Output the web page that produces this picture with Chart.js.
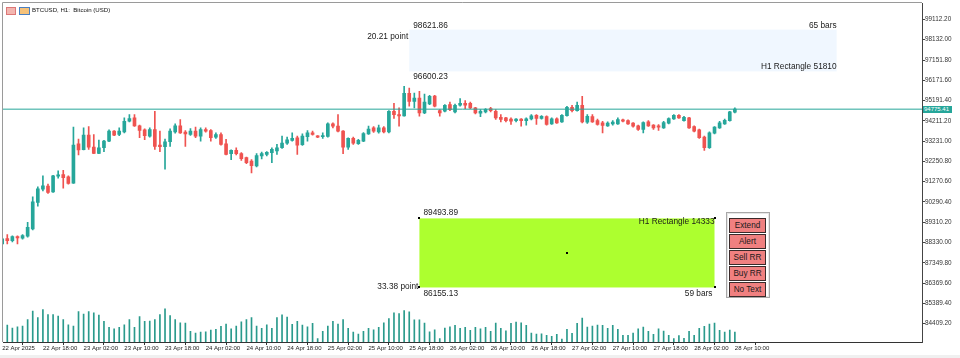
<!DOCTYPE html>
<html><head><meta charset="utf-8">
<script src="https://cdn.jsdelivr.net/npm/chart.js@4.4.1/dist/chart.umd.min.js"></script>
<style>
html,body{margin:0;padding:0;background:#fff;}
#wrap{position:relative;width:960px;height:358px;overflow:hidden;font-family:"Liberation Sans",Arial,sans-serif;background:#fff;}
#c{position:absolute;left:0;top:0;}
.lbl{position:absolute;font-size:8.3px;color:#1a1a1a;white-space:nowrap;line-height:10px;}
.l{transform:translate(0,-50%);} .r{transform:translate(-100%,-50%);}
#title{position:absolute;left:32px;top:6px;font-size:6.1px;line-height:7px;color:#111;white-space:nowrap;}
.ico{position:absolute;top:7px;height:6px;}
#pricebox{position:absolute;left:923px;width:29px;height:7px;background:#26a69a;color:#fff;font-size:6px;line-height:7px;padding-left:1px;box-sizing:border-box;}
#panel{position:absolute;left:726px;top:212px;width:44px;height:86px;background:#fff;border:1px solid #a8a8a8;box-sizing:border-box;box-shadow:inset 0 0 0 1px #e6e6e6;}
.btn{position:absolute;left:2px;width:37px;height:15px;background:#f08080;border:1px solid #3a2a2a;box-sizing:border-box;font-size:8.2px;line-height:13px;text-align:center;color:#1a1a1a;}
#foot{position:absolute;left:0;top:355px;width:960px;height:3px;background:#f0f0f0;}
</style></head>
<body><div id="wrap">
<canvas id="c" width="960" height="358"></canvas>
<div class="ico" style="left:6px;width:8px;background:#f3b6b0;border:1px solid #d77"></div>
<div class="ico" style="left:19px;width:9px;background:#f6c27a;border:1px solid #4a7fc0"></div>
<div id="title">BTCUSD, H1:&nbsp; Bitcoin (USD)</div>
<div id="pricebox">94775.41</div>
<div id="panel"></div>
<div id="foot"></div>
</div>
<script>
// ---- data ----
const symbolTitle = 'BTCUSD, H1:  Bitcoin (USD)';
const xTickIndex = [0,8,16,24,32,40,48,56,64,72,80,88,96,104,112,120,128,136,144];
const xTickLabels = ['22 Apr 2025','22 Apr 18:00','23 Apr 02:00','23 Apr 10:00','23 Apr 18:00','24 Apr 02:00','24 Apr 10:00','24 Apr 18:00','25 Apr 02:00','25 Apr 10:00','25 Apr 18:00','26 Apr 02:00','26 Apr 10:00','26 Apr 18:00','27 Apr 02:00','27 Apr 10:00','27 Apr 18:00','28 Apr 02:00','28 Apr 10:00'];
const yTickValues = [99112.20,98132.00,97151.80,96171.60,95191.40,94211.20,93231.00,92250.80,91270.60,90290.40,89310.20,88330.00,87349.80,86369.60,85389.40,84409.20];
const lastPrice = 94775.41;

const open = [88262,88519,88423,88615,88535,88631,88984,90266,90907,91052,90779,91532,91613,91500,91196,93103,92815,93520,92943,92638,
92911,93232,93712,93552,93680,94193,94354,93969,93777,93472,93793,93039,92959,93200,93680,93969,93664,93552,93712,93472,
93793,93745,93424,93552,93103,92622,92783,92622,92430,92270,92029,92510,92590,92671,92751,92911,93135,93264,93392,93055,
93440,93632,93488,93440,93456,94065,93953,93712,92943,93360,93103,93232,93584,93873,93680,93873,93680,94674,94514,94450,
95540,95155,95315,94594,95027,95412,94706,94674,94995,94642,94963,95059,95059,94835,94578,94642,94803,94674,94386,94354,
94290,94225,94290,94225,94306,94482,94322,94418,94065,94306,94161,94466,94867,94706,94963,94145,94418,94225,94113,93969,
94065,94065,94258,94225,94097,93969,93793,94161,94001,93969,93873,94097,94306,94482,94225,94354,93937,93777,93424,92911,
93616,93873,94065,94225,94626];
const high = [88583,88711,88647,88647,88711,89304,90539,91019,91548,91148,91581,91789,91821,91548,93905,93328,93873,93937,93552,93280,
93264,93777,93745,93873,94354,94514,94514,94001,93825,93873,94674,93712,93328,93825,94065,94274,93745,93841,93905,93873,
93873,93793,93632,93632,93312,92815,92911,92671,92462,92334,92622,92703,92719,92911,93071,93472,93424,93632,93472,93584,
93745,93712,93504,93632,94113,94113,94514,93745,93392,93424,93312,93648,93953,93937,94001,93937,94706,95059,94835,95877,
95796,95556,95636,95508,95444,95444,94754,94995,95123,95027,95283,95187,95123,94867,94754,94803,94867,94754,94514,94386,
94354,94322,94322,94354,94514,94514,94466,94450,94354,94354,94514,94915,94963,95123,95396,94514,94514,94290,94193,94161,
94225,94354,94290,94258,94129,94001,94161,94225,94033,94033,94193,94354,94514,94514,94434,94386,93969,93809,93472,93680,
93937,94193,94290,94674,94835];
const low = [88230,88262,88358,88262,88487,88583,88936,90090,90827,90699,90747,91436,90955,91148,91180,92558,92799,92831,92622,92622,
92719,93200,93488,93488,93632,94161,93937,93392,93296,93424,92831,92719,91869,92975,93616,93600,92975,93504,93392,93232,
93664,93232,93360,93039,92558,92334,92558,92302,92142,91693,91981,92366,92510,92190,92590,92879,93071,93232,92590,93023,
93232,93520,93392,93360,93424,93873,93680,92622,92831,93071,93071,93200,93552,93648,93616,93632,93632,94322,93953,94434,
94915,94835,94434,94562,94995,94883,94434,94642,94706,94594,94915,94803,94803,94546,94418,94594,94642,94274,94161,94161,
94033,94161,93953,94001,94258,94033,94290,94001,94033,94081,94129,94434,94642,94674,94113,94081,94129,94001,93632,93937,
94001,94033,94161,94033,93905,93745,93632,93937,93793,93745,93841,94065,94274,94322,94193,93841,93680,93360,92783,92879,
93584,93841,94033,94193,94594];
const close = [88503,88423,88615,88551,88663,89064,90298,90923,91068,90747,91548,91597,91468,91180,93039,92799,93520,92943,92638,92911,
93232,93712,93520,93712,94193,94322,93969,93745,93488,93793,92975,92959,93200,93712,93969,93632,93584,93712,93472,93793,
93712,93392,93552,93071,92590,92783,92622,92382,92190,92045,92526,92622,92687,92831,92911,93135,93296,93360,93039,93472,
93632,93552,93424,93504,94065,93953,93712,92943,93360,93135,93264,93600,93809,93712,93873,93680,94674,94514,94450,95540,
95155,95315,94594,95123,95396,94915,94594,94963,94754,94963,95059,94963,94835,94594,94674,94770,94706,94354,94274,94225,
94193,94290,94225,94306,94450,94322,94434,94033,94306,94113,94482,94867,94706,94963,94161,94434,94161,94033,93985,94097,
94145,94274,94193,94065,93953,93793,94129,93969,93873,93905,94129,94322,94482,94354,94386,93873,93712,93392,92911,93632,
93905,94113,94241,94642,94775.41];
const volume = [4500,5100,4200,4600,4800,6800,9300,7400,9800,8300,8300,7800,6800,5200,4800,9200,8400,9200,8800,8100,
6200,4400,4000,4400,5200,6800,4400,7700,6200,6300,6800,8300,10000,8000,6800,5800,5700,3200,2700,3000,
3100,3600,3800,4700,5400,4000,4800,6100,6800,7400,4800,4100,5200,4100,7400,8200,7500,5300,6200,5100,
4600,5600,1000,3200,4800,6200,5400,6800,4100,3000,2400,3200,4100,3700,4400,5800,7100,8800,8600,9500,
9100,6700,6700,5700,3100,3700,1000,4200,4600,5000,4100,4400,3500,4400,4000,4400,3200,5700,4100,3400,
5600,6000,5800,5000,2700,2400,2500,2000,1700,2300,900,3800,2600,5600,7200,4500,4800,5100,5000,4100,
5000,3800,2000,2000,2700,4000,4500,3200,2300,4000,3300,2000,1000,1900,1100,3200,2000,4100,4700,5400,
5700,3500,3000,3600,3000];

// rectangles: bar index span and price span
const rectBlue = {start:80, end:164, top:98621.86, bottom:96600.23, name:'H1 Rectangle 51810', bars:'65 bars', points:'20.21 point'};
const rectGreen = {start:82, end:140, top:89493.89, bottom:86155.13, name:'H1 Rectangle 14333', bars:'59 bars', points:'33.38 point'};
const buttonLabels = ['Extend','Alert','Sell RR','Buy RR','No Text'];

[high,low,close,volume].forEach((a,k)=>{ if(a.length!==open.length) throw new Error('length mismatch '+k+' '+a.length+' vs '+open.length); });

// ---- styles ----
const BULL = '#26a69a', BEAR = '#ef5350', VOL = '#2a9a8c';
const FONT = '"Liberation Sans", Arial, sans-serif';
const X_MIN = 0.157, X_MAX = 180.78, Y_MIN = 83519, Y_MAX = 99867;

const candleColors = open.map((o,i)=> close[i] >= o ? BULL : BEAR);
const wickData = open.map((o,i)=>({x:i, y:[low[i], high[i]]}));
const bodyData = open.map((o,i)=>({x:i, y:[o, close[i]]}));
const volData = volume.map((v,i)=>({x:i, y:v}));

// labels in DOM
const wrap = document.getElementById('wrap');
function mk(text, cls){ const d=document.createElement('div'); d.className='lbl '+cls; d.textContent=text; wrap.appendChild(d); return d; }
const labs = {
  bTop: mk(rectBlue.top.toFixed(2),'l'), bBars: mk(rectBlue.bars,'r'), bPts: mk(rectBlue.points,'r'),
  bName: mk(rectBlue.name,'r'), bBot: mk(rectBlue.bottom.toFixed(2),'l'),
  gTop: mk(rectGreen.top.toFixed(2),'l'), gName: mk(rectGreen.name,'r'), gPts: mk(rectGreen.points,'r'),
  gBot: mk(rectGreen.bottom.toFixed(2),'l'), gBars: mk(rectGreen.bars,'r')
};
const panel = document.getElementById('panel');
buttonLabels.forEach((t,k)=>{ const b=document.createElement('div'); b.className='btn'; b.style.top=(5+k*16)+'px'; b.textContent=t; panel.appendChild(b); });

function place(el,x,y){ el.style.left=x+'px'; el.style.top=y+'px'; }

const overlay = {
  id:'overlay',
  beforeDatasetsDraw(chart){
    const {ctx, scales:{x,y}} = chart;
    ctx.save();
    [[rectBlue,'#f0f7ff'],[rectGreen,'#adff2f']].forEach(([r,col])=>{
      const L=x.getPixelForValue(r.start), R=x.getPixelForValue(r.end);
      const T=y.getPixelForValue(r.top), B=y.getPixelForValue(r.bottom);
      ctx.fillStyle=col; ctx.fillRect(L,T,R-L,B-T);
    });
    ctx.restore();
  },
  afterDraw(chart){
    const {ctx, chartArea:a, scales:{x,y}} = chart;
    ctx.save();
    ctx.strokeStyle='#9a9a9a'; ctx.lineWidth=1;
    ctx.beginPath(); ctx.moveTo(2.5, a.bottom); ctx.lineTo(2.5,2.5); ctx.lineTo(a.right,2.5); ctx.stroke();
    const g=rectGreen;
    const L=x.getPixelForValue(g.start), R=x.getPixelForValue(g.end);
    const T=y.getPixelForValue(g.top), B=y.getPixelForValue(g.bottom);
    ctx.fillStyle='#000';
    [[L,T],[R,T],[L,B],[R,B],[(L+R)/2,(T+B)/2]].forEach(([px,py])=>ctx.fillRect(Math.round(px)-1,Math.round(py)-1,2,2));
    ctx.restore();
    const bl=x.getPixelForValue(rectBlue.start), br=x.getPixelForValue(rectBlue.end);
    const bt=y.getPixelForValue(rectBlue.top), bb=y.getPixelForValue(rectBlue.bottom);
    place(labs.bTop, bl+4, bt-5); place(labs.bBars, br, bt-5); place(labs.bPts, bl-1, bt+6);
    place(labs.bName, br, bb-5); place(labs.bBot, bl+4, bb+5);
    place(labs.gTop, L+4, T-6); place(labs.gName, R, T+3); place(labs.gPts, L-1, B-1);
    place(labs.gBot, L+4, B+6); place(labs.gBars, R-2, B+6);
    const pb=document.getElementById('pricebox'); pb.style.top=(y.getPixelForValue(lastPrice)-3.5)+'px';
  }
};

new Chart(document.getElementById('c'), {
  type:'bar',
  data:{ datasets:[
    {type:'line', data:[{x:X_MIN,y:lastPrice},{x:X_MAX,y:lastPrice}], borderColor:BULL, borderWidth:1, pointRadius:0, order:1, yAxisID:'y'},
    {data:bodyData, backgroundColor:candleColors, barThickness:3, minBarLength:1, grouped:false, order:2, yAxisID:'y'},
    {data:wickData, backgroundColor:candleColors, barThickness:1, grouped:false, order:3, yAxisID:'y'},
    {data:volData, backgroundColor:VOL, barThickness:1, grouped:false, order:4, yAxisID:'yv'}
  ]},
  options:{
    responsive:false, animation:false, devicePixelRatio:1, events:[],
    layout:{padding:{left:3,top:2,right:0,bottom:0}},
    plugins:{legend:{display:false}, tooltip:{enabled:false}, title:{display:false}},
    scales:{
      x:{type:'linear', min:X_MIN, max:X_MAX, offset:false,
        afterBuildTicks(ax){ ax.ticks = xTickIndex.map(v=>({value:v})); },
        afterFit(ax){ ax.height = 16; },
        ticks:{autoSkip:false, maxRotation:0, minRotation:0, align:'start', padding:0, color:'#222', font:{family:FONT,size:6},
          callback:(v,i)=>xTickLabels[i]},
        grid:{drawOnChartArea:false, drawTicks:true, tickLength:3, color:'#333'},
        border:{display:true, color:'#333'}
      },
      y:{type:'linear', position:'right', min:Y_MIN, max:Y_MAX,
        afterBuildTicks(ax){ ax.ticks = yTickValues.map(v=>({value:v})); },
        afterFit(ax){ ax.width = 38; },
        ticks:{autoSkip:false, padding:0, color:'#333', font:{family:FONT,size:6.4}, callback:v=>Number(v).toFixed(2)},
        grid:{drawOnChartArea:false, drawTicks:true, tickLength:3, color:'#444'},
        border:{display:true, color:'#444'}
      },
      yv:{type:'linear', display:false, min:0, max:102000}
    }
  },
  plugins:[overlay]
});
</script></body></html>
